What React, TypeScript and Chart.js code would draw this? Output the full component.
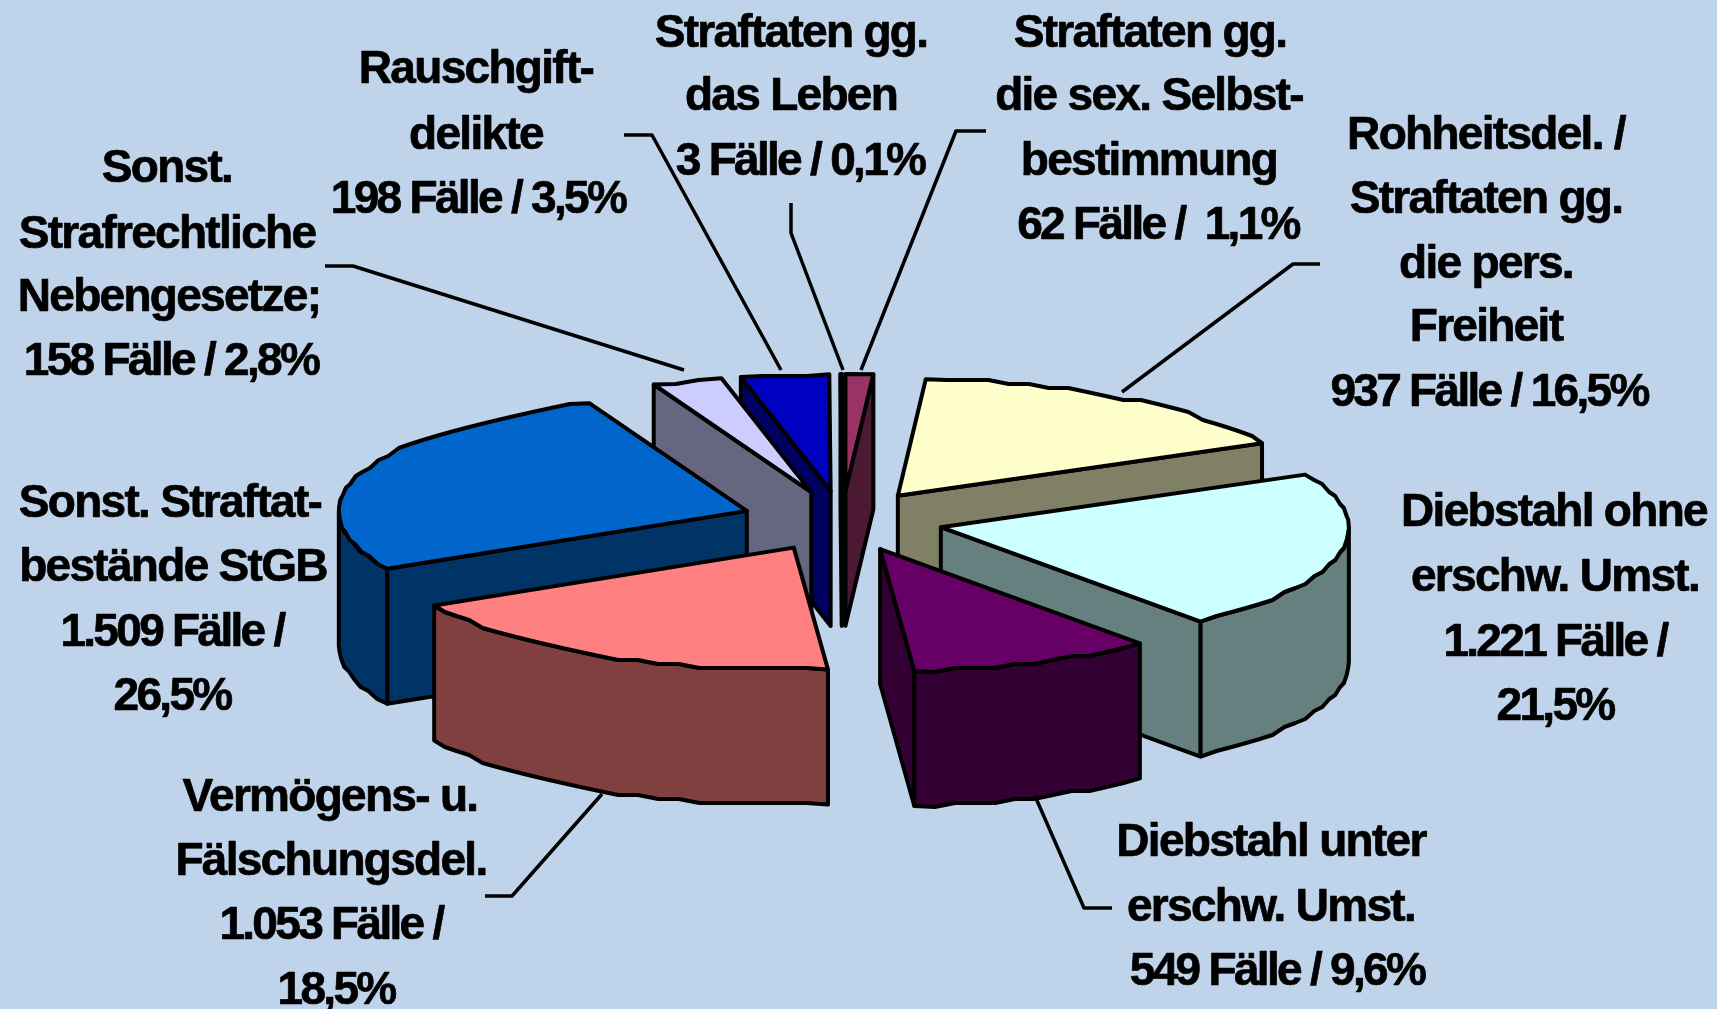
import React, { useEffect, useRef } from "react";
import { Chart, registerables } from "chart.js";

Chart.register(...registerables);

const categories = [
  "Straftaten gg. die sex. Selbstbestimmung",
  "Rohheitsdel. / Straftaten gg. die pers. Freiheit",
  "Diebstahl ohne erschw. Umst.",
  "Diebstahl unter erschw. Umst.",
  "Vermögens- u. Fälschungsdel.",
  "Sonst. Straftatbestände StGB",
  "Sonst. Strafrechtliche Nebengesetze",
  "Rauschgiftdelikte",
  "Straftaten gg. das Leben",
];
const caseCounts = [62, 937, 1221, 549, 1053, 1509, 158, 198, 3];
const topColors = ["#993366", "#FFFFCC", "#CCFFFF", "#660066", "#FF8080", "#0066CC", "#CCCCFF", "#0000C0", "#800000"];
const wallColors = ["#4C1933", "#808066", "#668080", "#330033", "#804040", "#003366", "#666680", "#000060", "#400000"];
const labelLines = [
  ["Straftaten gg.", "die sex. Selbst-", "bestimmung", "62 Fälle /  1,1%"],
  ["Rohheitsdel. /", "Straftaten gg.", "die pers.", "Freiheit", "937 Fälle / 16,5%"],
  ["Diebstahl ohne", "erschw. Umst.", "1.221 Fälle /", "21,5%"],
  ["Diebstahl unter", "erschw. Umst.", "549 Fälle / 9,6%"],
  ["Vermögens- u.", "Fälschungsdel.", "1.053 Fälle /", "18,5%"],
  ["Sonst. Straftat-", "bestände StGB", "1.509 Fälle /", "26,5%"],
  ["Sonst.", "Strafrechtliche", "Nebengesetze;", "158 Fälle / 2,8%"],
  ["Rauschgift-", "delikte", "198 Fälle / 3,5%"],
  ["Straftaten gg.", "das Leben", "3 Fälle / 0,1%"],
];

// Layout of the labels: centre x and centre y of each text line, in page pixels
const labelCentresX = [
  [1150, 1149, 1149, 1158],
  [1486, 1486, 1486, 1486, 1489],
  [1554, 1555, 1555, 1555],
  [1271, 1271, 1277],
  [330, 331, 331, 336],
  [170, 173, 172, 172],
  [167, 167, 169, 171],
  [476, 476, 478],
  [791, 791, 800],
];
const labelCentresY = [
  [34, 97, 162, 226],
  [136, 200, 265, 328, 393],
  [513, 578, 643, 707],
  [843, 908, 972],
  [798, 862, 926, 991],
  [504, 568, 633, 697],
  [169, 235, 298, 362],
  [70, 136, 200],
  [34, 97, 162],
];
const leaderLines = [
  [[986, 131], [956, 131], [861, 370]],
  [[1320, 264], [1293, 264], [1122, 392]],
  null,
  [[1035, 796], [1084, 908], [1112, 908]],
  [[602, 794], [512, 896], [485, 896]],
  null,
  [[325, 266], [353, 266], [684, 370]],
  [[624, 135], [652, 135], [781, 370]],
  [[791, 203], [791, 233], [843, 370]],
];

const PIE_RADIUS = 408;
const EXPLODE = 101;
const TILT = 0.3;
const REAR_TILT = 0.286;
const DEPTH = 135;
const OUTLINE = 4;
const RIM_STEP = 4;
const BACKGROUND = "#BFD4EA";

const pie3d = {
  id: "pie3d",
  beforeDatasetDraw(chart: any) {
    const ctx = chart.ctx;
    const arcs = chart.getDatasetMeta(0).data;
    const order = arcs
      .map((arc: any, i: number) => ({ arc, i, mid: (arc.startAngle + arc.endAngle) / 2 }))
      .sort((a: any, b: any) => Math.sin(a.mid) - Math.sin(b.mid));

    ctx.lineJoin = "round";
    ctx.lineCap = "round";
    ctx.lineWidth = OUTLINE;
    ctx.strokeStyle = "#000";

    const poly = (pts: number[][], fill?: string) => {
      ctx.beginPath();
      pts.forEach((p, k) => (k ? ctx.lineTo(p[0], p[1]) : ctx.moveTo(p[0], p[1])));
      ctx.closePath();
      if (fill) {
        ctx.fillStyle = fill;
        ctx.fill();
      }
      ctx.stroke();
    };

    for (const { arc, i, mid } of order) {
      const { startAngle, endAngle, outerRadius, x, y } = arc;
      const ax = x + Math.cos(mid) * EXPLODE;
      const ay = y + Math.sin(mid) * EXPLODE * TILT;
      const rim = (a: number) => {
        const s = Math.sin(a);
        return [ax + Math.cos(a) * outerRadius, ay + s * outerRadius * (s < 0 ? REAR_TILT : TILT)];
      };
      // The reference's rims are coarse and stepped: sample sparsely and snap the height
      const rough = (a0: number, a1: number) => {
        const n = Math.max(1, Math.round(((a1 - a0) * 180) / Math.PI / 3));
        const pts: number[][] = [];
        for (let k = 0; k <= n; k++) {
          const p = rim(a0 + ((a1 - a0) * k) / n);
          if (k > 0 && k < n) p[1] = Math.round(p[1] / RIM_STEP) * RIM_STEP;
          pts.push(p);
        }
        return pts;
      };
      const down = (p: number[]) => [p[0], p[1] + DEPTH];
      const wall = wallColors[i];
      const apex = [ax, ay];

      if (-Math.cos(startAngle) > 0) {
        const r = rim(startAngle);
        poly([apex, r, down(r), down(apex)], wall);
      }
      if (Math.cos(endAngle) > 0) {
        const r = rim(endAngle);
        poly([apex, r, down(r), down(apex)], wall);
      }
      // outer wall: only the part on the near side of the pie
      const from = Math.max(startAngle, 0);
      const to = Math.min(endAngle, Math.PI);
      if (to > from) {
        const top = rough(from, to);
        poly([...top, ...top.slice().reverse().map(down)], wall);
      }

      // top face from the arc element's own angles, radius and colour
      poly([apex, ...rough(startAngle, endAngle)], arc.options.backgroundColor);
    }
    return false;
  },
  afterDraw(chart: any) {
    const ctx = chart.ctx;
    ctx.save();
    ctx.strokeStyle = "#000";
    ctx.lineWidth = 3.5;
    ctx.lineJoin = "round";
    ctx.lineCap = "butt";
    leaderLines.forEach((line) => {
      if (!line) return;
      ctx.beginPath();
      line.forEach((p, k) => (k ? ctx.lineTo(p[0], p[1]) : ctx.moveTo(p[0], p[1])));
      ctx.stroke();
    });
    ctx.fillStyle = "#000";
    ctx.lineWidth = 0.7;
    ctx.font = 'bold 46px "Liberation Sans"';
    ctx.textAlign = "center";
    ctx.textBaseline = "middle";
    labelLines.forEach((lines, i) => {
      lines.forEach((text, j) => {
        (ctx as any).letterSpacing = /[0-9]/.test(text) ? "-2.7px" : "-1.7px";
        ctx.fillText(text, labelCentresX[i][j], labelCentresY[i][j]);
        ctx.strokeText(text, labelCentresX[i][j], labelCentresY[i][j]);
      });
    });
    ctx.restore();
  },
};

export default function App() {
  const ref = useRef<HTMLCanvasElement>(null);
  useEffect(() => {
    document.body.style.margin = "0";
    document.body.style.background = BACKGROUND;
    const chart = new Chart(ref.current as HTMLCanvasElement, {
      type: "pie",
      data: {
        labels: categories,
        datasets: [
          {
            data: caseCounts,
            backgroundColor: topColors,
            borderWidth: 0,
            radius: PIE_RADIUS,
            clip: false,
          } as any,
        ],
      },
      options: {
        animation: false,
        responsive: false,
        events: [],
        layout: { padding: { top: 33, right: 33, bottom: 0, left: 0 } },
        plugins: { legend: { display: false }, tooltip: { enabled: false }, title: { display: false } },
      },
      plugins: [pie3d],
    } as any);
    return () => chart.destroy();
  }, []);
  return (
    <div style={{ position: "absolute", left: 0, top: 0, width: 1717, height: 1009, background: BACKGROUND, overflow: "hidden" }}>
      <canvas ref={ref} width={1717} height={1009} style={{ display: "block" }} />
    </div>
  );
}
